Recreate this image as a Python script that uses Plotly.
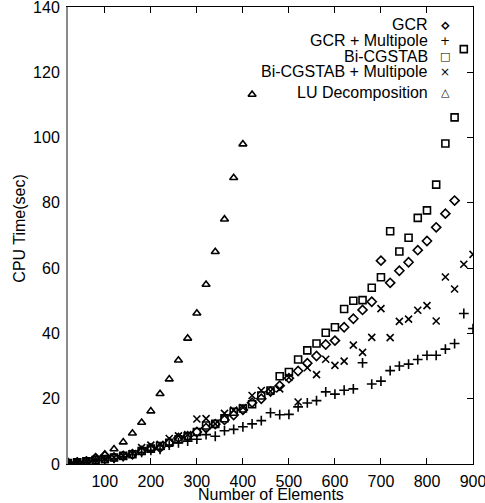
import plotly.graph_objects as go

x_all = list(range(20, 901, 20))

gcr = [0.3, 0.5, 0.8, 1.8, 2.5, 2.0, 2.5, 3.0, 4.0, 4.8, 5.0, 6.5, 8.0, 8.5, 9.8,
       11.0, 12.2, 13.5, 15.0, 16.6, 18.8, 20.0, 22.2, 24.0, 26.3, 28.5, 30.9, 33.1,
       36.6, 37.8, 41.9, 44.5, 47.2, 49.7, 62.3, 55.5, 59.2, 61.8, 65.5, 68.3, 72.5,
       76.7, 80.7]
gcr_mp = [0.2, 0.4, 0.6, 1.0, 1.2, 1.7, 2.3, 3.0, 3.6, 4.2, 4.5, 5.8, 6.5, 7.0, 7.6,
          9.0, 8.5, 10.2, 10.6, 11.4, 12.3, 13.3, 15.7, 15.1, 15.2, 17.5, 18.7, 19.4,
          22.1, 21.4, 22.6, 23.0, 31.0, 24.5, 25.4, 28.6, 30.0, 30.6, 32.0, 33.3, 33.3,
          35.2, 36.9, 46.1, 41.5]
bicg = [0.3, 0.5, 0.8, 1.2, 1.5, 2.0, 2.5, 3.0, 4.0, 4.7, 5.5, 6.5, 7.5, 8.5, 9.8,
        11.8, 12.3, 14.0, 16.0, 17.0, 18.3, 21.0, 22.5, 26.9, 28.2, 32.0, 34.8, 36.9,
        40.2, 41.9, 47.5, 50.0, 50.2, 54.0, 57.2, 71.3, 65.1, 69.3, 75.4, 77.7, 85.6,
        98.2, 106.2, 127.1]
bicg_mp = [0.2, 0.4, 0.7, 1.3, 1.5, 2.0, 2.5, 3.2, 5.0, 5.8, 6.0, 7.8, 8.6, 9.0, 13.8,
           13.9, 12.3, 15.5, 16.5, 17.3, 21.0, 22.5, 22.3, 23.0, 26.5, 19.0, 29.5, 27.4,
           32.1, 30.2, 31.5, 36.4, 34.2, 38.8, 47.6, 38.7, 43.7, 44.4, 47.1, 48.5, 43.8,
           57.3, 53.6, 61.2, 64.2]
lu = [0.3, 0.5, 1.0, 2.0, 3.0, 4.6, 6.7, 9.4, 12.7, 16.2, 21.5, 26.0, 31.8, 38.5,
      46.2, 55.0, 65.0, 75.0, 87.7, 98.0, 113.2]

x_ticks = [100, 200, 300, 400, 500, 600, 700, 800, 900]
y_ticks = [0, 20, 40, 60, 80, 100, 120, 140]

series = [
    ("GCR", gcr, "diamond-open", "\u22C4", 17),
    ("GCR + Multipole", gcr_mp, "cross-thin-open", "+", 12),
    ("Bi-CGSTAB", bicg, "square-open", "\u25A1", 11),
    ("Bi-CGSTAB + Multipole", bicg_mp, "x-thin-open", "\u00D7", 12),
    ("LU Decomposition", lu, "triangle-up-open", "\u25B3", 11),
]

fig = go.Figure()
for name, vals, sym, _, _ in series:
    fig.add_trace(go.Scatter(
        x=x_all[:len(vals)], y=vals, mode="markers", name=name,
        marker=dict(symbol=sym, size=7, color="black",
                    line=dict(color="black", width=1.6)),
        showlegend=False))
# empty trace to anchor the right-hand frame axis
fig.add_trace(go.Scatter(x=[], y=[], yaxis="y2", showlegend=False, hoverinfo="skip"))

font = "Liberation Sans, Arial, sans-serif"
leg_y = [0.961, 0.926, 0.891, 0.858, 0.814]
for (name, vals, sym, glyph, gsize), yy in zip(series, leg_y):
    fig.add_annotation(xref="paper", yref="paper", x=0.894, y=yy, text=name,
                       showarrow=False, xanchor="right", yanchor="middle",
                       font=dict(family=font, size=16, color="black"))
    fig.add_annotation(xref="paper", yref="paper", x=0.931, y=yy, text=glyph,
                       showarrow=False, xanchor="center", yanchor="middle",
                       font=dict(family="DejaVu Sans", size=gsize, color="black"))

# axis titles
fig.add_annotation(xref="paper", yref="paper", x=0.5, y=-0.066, text="Number of Elements",
                   showarrow=False, xanchor="center", yanchor="middle",
                   font=dict(family=font, size=16, color="black"))
fig.add_annotation(xref="paper", yref="paper", x=-0.1185, y=0.515, text="CPU Time(sec)",
                   showarrow=False, xanchor="center", yanchor="middle", textangle=-90,
                   font=dict(family=font, size=16, color="black"))

tf = dict(family=font, size=16, color="black")
fig.update_layout(
    width=485, height=503, plot_bgcolor="white", paper_bgcolor="white",
    margin=dict(l=68, r=12, t=7, b=39, autoexpand=False),
    xaxis=dict(range=[20, 900], tickvals=x_ticks, showgrid=False, zeroline=False,
               showline=True, linecolor="black", linewidth=1, mirror="ticks",
               ticks="inside", ticklen=6, tickcolor="black", tickfont=tf,
               ticklabeloverflow="allow", ticklabelstandoff=3),
    yaxis=dict(range=[0, 140], tickvals=y_ticks, showgrid=False, zeroline=False,
               showline=True, linecolor="#8a8a8a", linewidth=2, ticks="",
               tickfont=tf, ticklabeloverflow="allow", ticklabelstandoff=3),
    yaxis2=dict(range=[0, 140], tickvals=y_ticks, overlaying="y", side="right",
                showgrid=False, zeroline=False, showline=True, linecolor="black",
                linewidth=1, ticks="inside", ticklen=6, tickcolor="black",
                showticklabels=False),
)
fig.write_html("out.html", config={"displayModeBar": False},
               post_script="document.body.style.margin='0';")
